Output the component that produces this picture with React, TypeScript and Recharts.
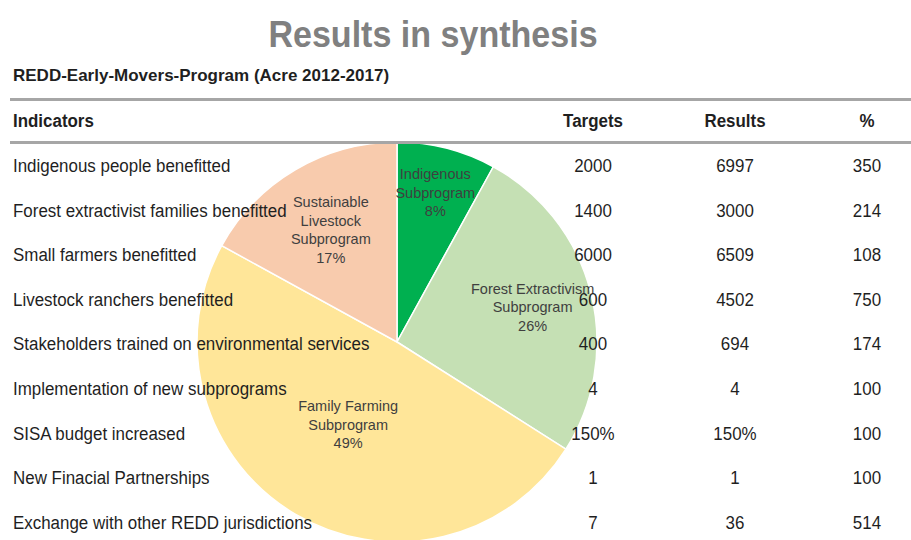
import React from 'react';
import { PieChart, Pie, Cell } from 'recharts';

const subprograms = ['Indigenous', 'Forest Extractivism', 'Family Farming', 'Sustainable Livestock'];
const shares = [8, 26, 49, 17];
const labelLines = [
  ['Indigenous', 'Subprogram'],
  ['Forest Extractivism', 'Subprogram'],
  ['Family Farming', 'Subprogram'],
  ['Sustainable', 'Livestock', 'Subprogram'],
];

const indicators = [
  'Indigenous people benefitted',
  'Forest extractivist families benefitted',
  'Small farmers  benefitted',
  'Livestock ranchers benefitted',
  'Stakeholders trained on environmental services',
  'Implementation  of new subprograms',
  'SISA budget increased',
  'New Finacial Partnerships',
  'Exchange with other REDD jurisdictions',
];
const targets = ['2000', '1400', '6000', '600', '400', '4', '150%', '1', '7'];
const results = ['6997', '3000', '6509', '4502', '694', '4', '150%', '1', '36'];
const percents = ['350', '214', '108', '750', '174', '100', '100', '100', '514'];

const colors = ['#00B050', '#C5E0B4', '#FFE699', '#F8CBAD'];
const labelRadius = [0.77, 0.7, 0.48, 0.65];

const pieData = subprograms.map((name, i) => ({ name, value: shares[i], lines: labelLines[i] }));

const FONT = '"Liberation Sans", Arial, sans-serif';
const RAD = Math.PI / 180;

const renderLabel = (props: any) => {
  const { cx, cy, midAngle, outerRadius, index, payload } = props;
  const r = outerRadius * labelRadius[index];
  const x = cx + r * Math.cos(-midAngle * RAD);
  const y = cy + r * Math.sin(-midAngle * RAD);
  const lines: string[] = [...payload.lines, `${payload.value}%`];
  const lh = 18.5;
  const top = y - ((lines.length - 1) * lh) / 2;
  return (
    <text x={x} y={top} textAnchor="middle" fill="#3f3f3f" fontSize={14.5} fontFamily={FONT}>
      {lines.map((l, k) => (
        <tspan key={k} x={x} y={top + k * lh} dy="0.35em">
          {l}
        </tspan>
      ))}
    </text>
  );
};

const rowY = (i: number) => 166 + i * 44.6;
const cell = (x: number, y: number, anchor: 'left' | 'center', bold = false): React.CSSProperties => ({
  position: 'absolute',
  top: y - 11,
  lineHeight: '22px',
  fontSize: 18,
  fontWeight: bold ? 'bold' : 'normal',
  whiteSpace: 'nowrap',
  transform: 'scaleX(0.94)',
  ...(anchor === 'left'
    ? { left: x, transformOrigin: 'left center' }
    : { left: x - 60, width: 120, textAlign: 'center', transformOrigin: 'center center' }),
});

export default function App() {
  return (
    <div
      style={{
        position: 'absolute',
        left: 0,
        top: 0,
        width: 911,
        height: 540,
        background: '#fff',
        overflow: 'hidden',
        fontFamily: FONT,
        color: '#1f1f1f',
      }}
    >
      <div style={{ position: 'absolute', left: 0, top: 0 }}>
        <PieChart width={911} height={540} margin={{ top: 0, right: 0, bottom: 0, left: 0 }}>
          <Pie
            data={pieData}
            dataKey="value"
            nameKey="name"
            cx={397}
            cy={342}
            outerRadius={200}
            startAngle={90}
            endAngle={-270}
            stroke="#ffffff"
            strokeWidth={1.5}
            label={renderLabel}
            labelLine={false}
            isAnimationActive={false}
          >
            {pieData.map((d, i) => (
              <Cell key={d.name} fill={colors[i]} />
            ))}
          </Pie>
        </PieChart>
      </div>

      <div
        style={{
          position: 'absolute',
          left: 233,
          width: 400,
          top: 12,
          textAlign: 'center',
          fontSize: 37,
          fontWeight: 'bold',
          color: '#808080',
          lineHeight: '46px',
          transform: 'scaleX(0.92)',
          transformOrigin: 'center center',
          whiteSpace: 'nowrap',
        }}
      >
        Results in synthesis
      </div>
      <div style={{ ...cell(13, 76, 'left', true), fontSize: 17, transform: 'none' }}>
        REDD-Early-Movers-Program (Acre 2012-2017)
      </div>
      <div style={{ position: 'absolute', left: 10, right: 0, top: 98, height: 3, background: '#a6a6a6' }} />
      <div style={{ position: 'absolute', left: 10, right: 0, top: 141, height: 3, background: '#a6a6a6' }} />

      <div style={cell(13, 121, 'left', true)}>Indicators</div>
      <div style={cell(593, 121, 'center', true)}>Targets</div>
      <div style={cell(735, 121, 'center', true)}>Results</div>
      <div style={cell(867, 121, 'center', true)}>%</div>

      {indicators.map((name, i) => (
        <React.Fragment key={name}>
          <div style={cell(13, rowY(i), 'left')}>{name}</div>
          <div style={cell(593, rowY(i), 'center')}>{targets[i]}</div>
          <div style={cell(735, rowY(i), 'center')}>{results[i]}</div>
          <div style={cell(867, rowY(i), 'center')}>{percents[i]}</div>
        </React.Fragment>
      ))}
    </div>
  );
}
